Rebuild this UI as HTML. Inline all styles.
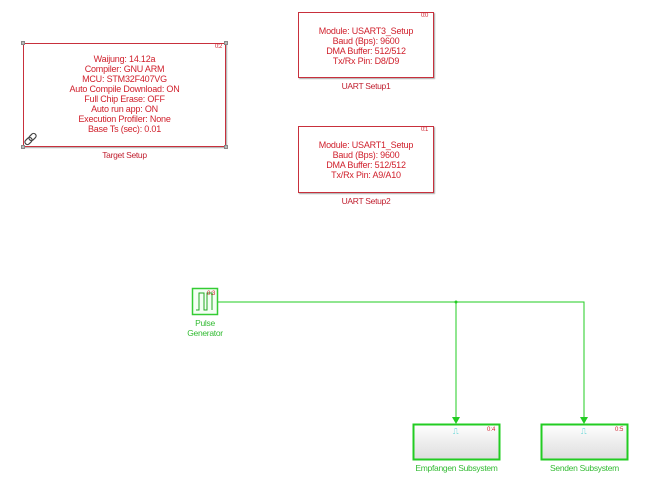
<html><head><style>
body{margin:0;width:645px;height:500px;background:#fff;position:relative;font-family:"Liberation Sans",sans-serif;overflow:hidden}
.b{position:absolute;box-sizing:border-box;border:1px solid #c8303c;box-shadow:1px 1px 1px #aaa;color:#d0202c;font-size:9px;line-height:10px;text-align:center;letter-spacing:-0.2px}
.n{position:absolute;font-size:6px;color:#d0202c;letter-spacing:-0.5px}
.l{position:absolute;font-size:8.5px;text-align:center;letter-spacing:-0.3px}
.h{position:absolute;width:4px;height:4px;background:#bbb;border:1px solid #888;box-sizing:border-box}
</style></head><body>
<div class="b" style="left:23px;top:43px;width:203px;height:104px;padding-top:10px">Waijung: 14.12a<br>Compiler: GNU ARM<br>MCU: STM32F407VG<br>Auto Compile Download: ON<br>Full Chip Erase: OFF<br>Auto run app: ON<br>Execution Profiler: None<br>Base Ts (sec): 0.01</div>
<div class="n" style="left:215px;top:44px">0:2</div>
<div class="h" style="left:21px;top:41px"></div><div class="h" style="left:224px;top:41px"></div><div class="h" style="left:21px;top:145px"></div><div class="h" style="left:224px;top:145px"></div>
<div class="l" style="left:23px;top:150px;width:203px;color:#c02030">Target Setup</div>

<div class="b" style="left:298px;top:12px;width:136px;height:66px;padding-top:13px">Module: USART3_Setup<br>Baud (Bps): 9600<br>DMA Buffer: 512/512<br>Tx/Rx Pin: D8/D9</div>
<div class="n" style="left:421px;top:13px">0:0</div>
<div class="l" style="left:298px;top:81px;width:136px;color:#c02030">UART Setup1</div>

<div class="b" style="left:298px;top:126px;width:136px;height:67px;padding-top:13px">Module: USART1_Setup<br>Baud (Bps): 9600<br>DMA Buffer: 512/512<br>Tx/Rx Pin: A9/A10</div>
<div class="n" style="left:421px;top:127px">0:1</div>
<div class="l" style="left:298px;top:196px;width:136px;color:#c02030">UART Setup2</div>

<svg width="645" height="500" style="position:absolute;left:0;top:0">
<g fill="none" stroke="#444" stroke-width="1.2">
<rect x="26" y="137" width="5" height="8" rx="2.5" transform="rotate(45 28.5 141)"/>
<rect x="30" y="133" width="5" height="8" rx="2.5" transform="rotate(45 32.5 137)"/>
</g>
<rect x="192.5" y="288.5" width="25" height="26" fill="#f4fff4" stroke="#3c3" stroke-width="1.5"/>
<polyline points="196,310 199,310 199,293 204,293 204,310 207,310 207,293 212,293 212,310" fill="none" stroke="#2a2" stroke-width="1"/>
<text x="207" y="295" font-size="6" fill="#d0202c" font-family="Liberation Sans">0:3</text>
<g stroke="#2c2" stroke-width="1" fill="none">
<polyline points="218,302 584,302 584,418"/>
<line x1="456" y1="302" x2="456" y2="418"/>
</g>
<circle cx="456" cy="302" r="1.5" fill="#2c2"/>
<polygon points="452,417 460,417 456,424" fill="#2c2"/>
<polygon points="580,417 588,417 584,424" fill="#2c2"/>
<defs><linearGradient id="g" x1="0" y1="0" x2="0" y2="1"><stop offset="0" stop-color="#fff"/><stop offset="1" stop-color="#ddd"/></linearGradient></defs>
<rect x="413.5" y="424.5" width="86" height="35" fill="url(#g)" stroke="#2c2" stroke-width="2"/>
<rect x="541.5" y="424.5" width="86" height="35" fill="url(#g)" stroke="#2c2" stroke-width="2"/>
<text x="453" y="434" font-size="8" fill="#3cc">⎍</text>
<text x="581" y="434" font-size="8" fill="#3cc">⎍</text>
<text x="487" y="431" font-size="6" fill="#d0202c" font-family="Liberation Sans">0:4</text>
<text x="615" y="431" font-size="6" fill="#d0202c" font-family="Liberation Sans">0:5</text>
</svg>
<div class="l" style="left:175px;top:318px;width:60px;color:#3b3;line-height:10px">Pulse<br>Generator</div>
<div class="l" style="left:400px;top:463px;width:113px;color:#3b3">Empfangen Subsystem</div>
<div class="l" style="left:528px;top:463px;width:113px;color:#3b3">Senden Subsystem</div>
</body></html>
